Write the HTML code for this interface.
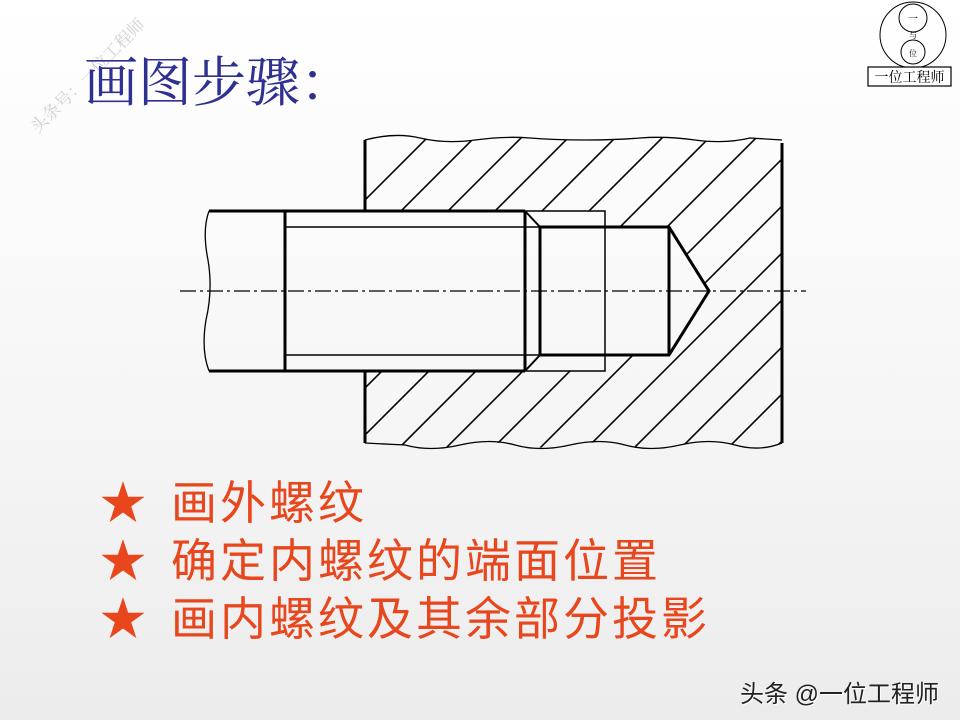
<!DOCTYPE html>
<html><head><meta charset="utf-8"><style>
html,body{margin:0;padding:0}
body{width:960px;height:720px;overflow:hidden;background:linear-gradient(#ffffff 0%,#f7f7f7 50%,#ececec 100%);position:relative;font-family:"Liberation Sans","Noto Sans CJK SC",sans-serif}
.t{position:absolute;white-space:nowrap}
.s{font-size:46px;color:#e8461c;letter-spacing:3px}
</style></head><body>
<svg width="960" height="720" style="position:absolute;left:0;top:0">
<defs>
<clipPath id="hc">
<path clip-rule="evenodd" d="M365,140 Q395,132 420,138 T475,140 T530,138 T585,140 T640,138 T695,140 T750,138 L782,140 L782,443 Q760,450 735,445 T680,445 T625,445 T570,445 T515,445 T460,445 T405,445 L365,443 Z M365,211 L605,211 L605,227 L669,227 L709,291 L669,355 L605,355 L605,371 L365,371 Z"/>
</clipPath>
</defs>
<g clip-path="url(#hc)" stroke="#000" stroke-width="1.6">
<path d="M300,500 L720,80 M347,500 L767,80 M394,500 L814,80 M441,500 L861,80 M488,500 L908,80 M535,500 L955,80 M582,500 L1002,80 M629,500 L1049,80 M676,500 L1096,80 M723,500 L1143,80 M770,500 L1190,80 M253,500 L673,80 M206,500 L626,80 M159,500 L579,80 M112,500 L532,80 M65,500 L485,80"/>
</g>
<g fill="none" stroke="#000">
<path d="M365,140 Q395,132 420,138 T475,140 T530,138 T585,140 T640,138 T695,140 T750,138 L782,140" stroke-width="1.3"/>
<path d="M365,443 L405,445 Q430,452 460,445 T515,445 T570,445 T625,445 T680,445 T735,445 T782,443" stroke-width="1.3"/>
<path d="M365,140 L365,211 M365,371 L365,443" stroke-width="3"/>
<path d="M782,143 L782,443" stroke-width="3"/>
<path d="M209,211 L525,211 M209,371 L525,371 M285,211 L285,371 M525,211 L525,371" stroke-width="3"/>
<path d="M285,227 L540,227 M285,355 L540,355" stroke-width="1.5"/>
<path d="M525,211 L540,227 M525,371 L540,355" stroke-width="2"/>
<path d="M525,211 L605,211 L605,371 L525,371" stroke-width="1.5"/>
<path d="M540,227 L669,227 L709,291 L669,355 L540,355 Z M669,227 L669,355" stroke-width="3"/>
<path d="M209,211 Q202,230 208,260 Q213,290 206,320 Q201,350 209,371" stroke-width="1.3"/>
<line x1="180" y1="291" x2="806" y2="291" stroke-width="1.3" stroke-dasharray="16,4,3,4"/>
</g>
<g fill="none" stroke="#000" stroke-width="1">
<circle cx="913" cy="35" r="33"/><circle cx="913" cy="18" r="14"/><circle cx="913" cy="52" r="12"/>
</g>
<text x="913" y="22" font-size="10" text-anchor="middle" font-family="Liberation Serif,'Noto Serif CJK SC',serif">一</text>
<text x="913" y="38" font-size="8" text-anchor="middle" font-family="Liberation Serif,'Noto Serif CJK SC',serif">与</text>
<text x="913" y="56" font-size="8" text-anchor="middle" font-family="Liberation Serif,'Noto Serif CJK SC',serif">位</text>
<rect x="868" y="67" width="83" height="19" fill="#fff" stroke="#000" stroke-width="1.2"/>
<text x="909.5" y="82" font-size="14" text-anchor="middle" font-family="Liberation Serif,'Noto Serif CJK SC',serif">一位工程师</text>
</svg>
<div class="t" style="left:10px;top:62px;transform:rotate(-45deg);transform-origin:center;font-size:17px;color:#d0d0d0;font-family:'Liberation Serif','Noto Serif CJK SC',serif">头条号：一位工程师</div>
<div class="t" style="left:84px;top:40px;font-size:54px;color:#2e318f;font-family:'Liberation Serif','Noto Serif CJK SC',serif">画图步骤：</div>
<div class="t s" style="left:100px;top:474px;line-height:58px">★<br>★<br>★</div>
<div class="t s" style="left:171px;top:474px;line-height:58px">画外螺纹<br>确定内螺纹的端面位置<br>画内螺纹及其余部分投影</div>
<div class="t" style="left:740px;top:674px;font-size:24px;color:#222;text-shadow:1px 1px 0 #fff">头条 @一位工程师</div>
</body></html>
